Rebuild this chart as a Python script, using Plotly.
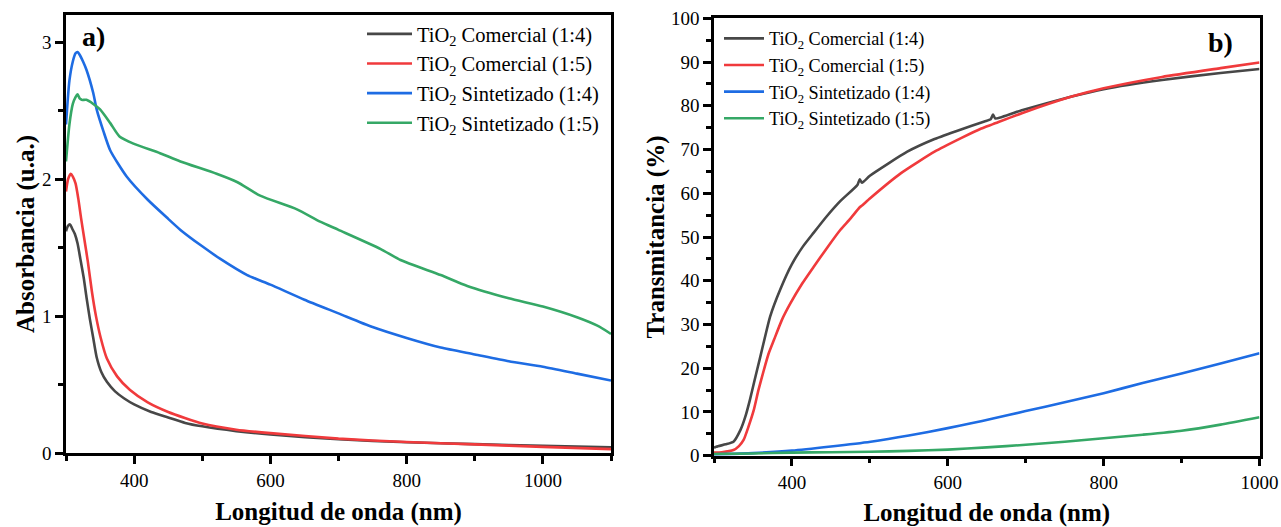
import plotly.graph_objects as go

# ---------------- Panel a) Absorbance ----------------
wl_a_com14 = [300, 303, 306, 309, 313, 317, 321, 326, 330, 335, 340, 345, 352, 360, 372, 385, 400, 425, 450, 475, 500, 550, 600, 700, 800, 900, 1000, 1100]
abs_com14 = [1.62, 1.66, 1.67, 1.64, 1.60, 1.53, 1.42, 1.28, 1.14, 0.98, 0.84, 0.70, 0.59, 0.52, 0.45, 0.40, 0.355, 0.30, 0.26, 0.22, 0.195, 0.16, 0.135, 0.10, 0.078, 0.065, 0.053, 0.042]

wl_a_com15 = [300, 303, 307, 310, 314, 318, 322, 327, 332, 338, 344, 351, 360, 375, 394, 420, 450, 500, 550, 600, 700, 800, 900, 1000, 1100]
abs_com15 = [1.91, 2.00, 2.04, 2.02, 1.97, 1.86, 1.72, 1.56, 1.40, 1.18, 1.00, 0.84, 0.69, 0.56, 0.46, 0.37, 0.30, 0.215, 0.17, 0.145, 0.105, 0.08, 0.063, 0.045, 0.028]

wl_a_sin14 = [300, 305, 310, 314, 317, 320, 325, 330, 340, 345, 355, 365, 389, 420, 448, 468, 500, 526, 566, 600, 650, 700, 750, 800, 850, 900, 950, 1000, 1050, 1100]
abs_sin14 = [2.40, 2.72, 2.86, 2.92, 2.93, 2.91, 2.86, 2.80, 2.63, 2.51, 2.35, 2.21, 2.02, 1.85, 1.72, 1.63, 1.51, 1.42, 1.30, 1.23, 1.12, 1.02, 0.92, 0.84, 0.77, 0.72, 0.67, 0.63, 0.58, 0.53]

wl_a_sin15 = [300, 305, 310, 314, 317, 320, 323, 330, 340, 350, 365, 379, 399, 438, 468, 521, 551, 585, 639, 673, 700, 762, 791, 850, 889, 950, 1000, 1051, 1080, 1100]
abs_sin15 = [2.13, 2.40, 2.55, 2.60, 2.62, 2.59, 2.58, 2.58, 2.55, 2.51, 2.41, 2.31, 2.26, 2.19, 2.13, 2.04, 1.98, 1.88, 1.78, 1.69, 1.63, 1.49, 1.41, 1.30, 1.22, 1.13, 1.07, 0.99, 0.93, 0.87]

# ---------------- Panel b) Transmittance ----------------
wl_b_com14 = [300, 303, 315, 325, 334, 340, 346, 352, 359, 365, 372, 385, 400, 414, 428, 445, 462, 484, 487, 490, 500, 548, 583, 617, 647, 655, 658, 661, 695, 759, 800, 875, 950, 1000]
tr_com14 = [1.8, 2.06, 2.6, 3.2, 5.9, 8.8, 12.7, 17.2, 22.3, 26.8, 31.8, 38.0, 43.8, 47.8, 51.0, 54.8, 58.2, 61.9, 63.2, 62.4, 64.0, 69.5, 72.4, 74.6, 76.4, 76.9, 78.0, 77.1, 79.0, 82.1, 83.8, 85.9, 87.5, 88.4]

wl_b_com15 = [300, 310, 325, 332, 338, 344, 351, 357, 364, 370, 377, 387, 398, 413, 428, 445, 462, 475, 487, 490, 500, 540, 583, 617, 643, 658, 695, 759, 800, 875, 950, 1000]
tr_com15 = [0.7, 0.8, 1.3, 2.2, 3.6, 6.5, 10.4, 15.0, 19.6, 23.3, 26.5, 31.0, 34.8, 39.3, 43.2, 47.5, 51.6, 54.2, 56.8, 57.2, 58.8, 64.6, 69.5, 72.6, 74.8, 75.8, 78.3, 82.1, 84.0, 86.6, 88.6, 89.9]

wl_b_sin14 = [300, 350, 400, 450, 501, 550, 600, 630, 658, 700, 750, 800, 850, 900, 950, 1000]
tr_sin14 = [0.3, 0.6, 1.15, 2.1, 3.2, 4.6, 6.3, 7.4, 8.5, 10.2, 12.2, 14.3, 16.6, 18.8, 21.1, 23.4]

wl_b_sin15 = [300, 350, 400, 450, 500, 550, 600, 650, 700, 750, 800, 850, 900, 950, 1000]
tr_sin15 = [0.4, 0.5, 0.7, 0.8, 0.9, 1.1, 1.4, 1.9, 2.5, 3.2, 4.0, 4.8, 5.7, 7.1, 8.8]

names = ["TiO<sub>2</sub> Comercial (1:4)", "TiO<sub>2</sub> Comercial (1:5)",
         "TiO<sub>2</sub> Sintetizado (1:4)", "TiO<sub>2</sub> Sintetizado (1:5)"]
colors = ["#474747", "#F03A3C", "#1E6CE3", "#35A866"]

FONT = "Liberation Serif"

fig = go.Figure()

panel_a = [(wl_a_com14, abs_com14), (wl_a_com15, abs_com15), (wl_a_sin14, abs_sin14), (wl_a_sin15, abs_sin15)]
panel_b = [(wl_b_com14, tr_com14), (wl_b_com15, tr_com15), (wl_b_sin14, tr_sin14), (wl_b_sin15, tr_sin15)]

for (x, y), n, c in zip(panel_a, names, colors):
    fig.add_trace(go.Scatter(x=x, y=y, mode="lines", name=n,
                             line=dict(color=c, width=2.6, shape="spline", smoothing=0.6),
                             xaxis="x", yaxis="y", legend="legend"))
for (x, y), n, c in zip(panel_b, names, colors):
    fig.add_trace(go.Scatter(x=x, y=y, mode="lines", name=n,
                             line=dict(color=c, width=2.6, shape="spline", smoothing=0.5),
                             xaxis="x2", yaxis="y2", legend="legend2"))

axis_common = dict(showline=True, linecolor="black", linewidth=2.5, mirror=True,
                   showgrid=False, zeroline=False, ticks="outside", ticklen=8,
                   tickwidth=2.5, tickcolor="black", automargin=False,
                   tickfont=dict(family=FONT, size=19, color="black"))

title_font = dict(family=FONT, size=25, color="black", weight="bold")
minor_tick = dict(ticks="outside", ticklen=5, tickwidth=2.5, tickcolor="black", tick0=0)

fig.update_layout(
    width=1281, height=527,
    margin=dict(l=0, r=0, t=0, b=0, autoexpand=False),
    paper_bgcolor="white", plot_bgcolor="white",
    xaxis=dict(domain=[66 / 1281, 611 / 1281], range=[300, 1100], tick0=0, dtick=200,
               minor=dict(dtick=100, **minor_tick),
               title=dict(text="Longitud de onda (nm)", font=title_font, standoff=13),
               anchor="y", **axis_common),
    yaxis=dict(domain=[(527 - 453) / 527, (527 - 15) / 527], range=[0, 3.2], tick0=0, dtick=1,
               minor=dict(dtick=0.5, **minor_tick),
               title=dict(text="Absorbancia (u.a.)", font=title_font, standoff=1),
               anchor="x", **axis_common),
    xaxis2=dict(domain=[714 / 1281, 1259.5 / 1281], range=[300, 1000], tick0=0, dtick=200,
                minor=dict(dtick=100, **minor_tick),
                title=dict(text="Longitud de onda (nm)", font=title_font, standoff=21),
                anchor="y2", **axis_common),
    yaxis2=dict(domain=[(527 - 455.7) / 527, (527 - 18.3) / 527], range=[0, 100], tick0=0, dtick=10,
                minor=dict(dtick=5, **minor_tick),
                title=dict(text="Transmitancia (%)", font=title_font, standoff=0),
                anchor="x2", **axis_common),
    legend=dict(x=362 / 1281, y=1 - 14 / 527, xanchor="left", yanchor="top", itemwidth=45,
                bgcolor="rgba(0,0,0,0)", font=dict(family=FONT, size=20.5, color="black"),
                tracegroupgap=0),
    legend2=dict(x=719 / 1281, y=1 - 20 / 527, xanchor="left", yanchor="top", itemwidth=40,
                 bgcolor="rgba(0,0,0,0)", font=dict(family=FONT, size=18.2, color="black"),
                 tracegroupgap=0),
    annotations=[
        dict(text="a)", x=93 / 1281, y=1 - 37 / 527, xref="paper", yref="paper",
             xanchor="center", yanchor="middle",
             showarrow=False, font=dict(family=FONT, size=28, color="black", weight="bold")),
        dict(text="b)", x=1220 / 1281, y=1 - 42 / 527, xref="paper", yref="paper",
             xanchor="center", yanchor="middle",
             showarrow=False, font=dict(family=FONT, size=28, color="black", weight="bold")),
    ],
)

fig.write_html("out.html")
